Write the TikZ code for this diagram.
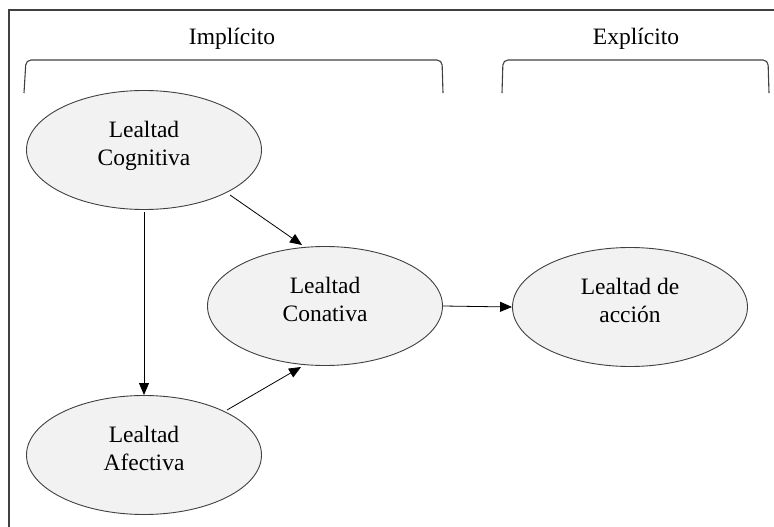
\documentclass[tikz,border=0pt]{standalone}
\usepackage{fontspec}
\setmainfont{Liberation Serif}
\usetikzlibrary{arrows.meta,shapes.geometric}
\definecolor{linegray}{HTML}{404040}
\definecolor{ellfill}{HTML}{F2F2F2}
\tikzset{
  loyalty/.style={ellipse, draw=linegray, line width=0.9pt, fill=ellfill,
    minimum width=235pt, minimum height=119pt, inner sep=0pt,
    text height=44pt, text depth=14pt,
    align=center, font=\fontsize{23.5}{28}\selectfont},
  heading/.style={font=\fontsize{23.5}{28}\selectfont, inner sep=0pt},
  flow/.style={draw=black, line width=0.8pt, -{Triangle[length=12pt,width=10pt]}},
  bracket/.style={draw=linegray, line width=1.1pt, rounded corners=5pt},
  frameline/.style={draw=linegray, line width=1.2pt}
}
\begin{document}
\begin{tikzpicture}[x=1pt, y=-1pt]
  \useasboundingbox (0,0) rectangle (774,527);
  % outer frame (top and left edges)
  \draw[frameline] (9,527) -- (9,10) -- (774,10);

  % group headings with their brackets
  \node[heading] (imp) at (232,39) {Implícito};
  \node[heading] (exp) at (636,39) {Explícito};
  \draw[bracket] (24,93) -- (26,60) -- (442,60) -- (443,93);
  \draw[bracket] (502,93) -- (503,60) -- (768,60) -- (769,93);

  % loyalty stages
  \node[loyalty] (cog) at (144,150) {Lealtad\\Cognitiva};
  \node[loyalty] (con) at (325,306) {Lealtad\\Conativa};
  \node[loyalty] (afe) at (144,455) {Lealtad\\Afectiva};
  \node[loyalty] (acc) at (630,307) {Lealtad de\\acción};

  % connectors
  \coordinate (cogS) at (144,212);
  \coordinate (afeN) at (144,395);
  \draw[flow] (cogS) -- (afeN);
  \coordinate (cogSE) at (230,195);
  \coordinate (conNW) at (302,245);
  \draw[flow] (cogSE) -- (conNW);
  \coordinate (afeNE) at (227,410);
  \coordinate (conSW) at (301,367);
  \draw[flow] (afeNE) -- (conSW);
  \draw[flow] (con.east) -- (acc.west);
\end{tikzpicture}
\end{document}
